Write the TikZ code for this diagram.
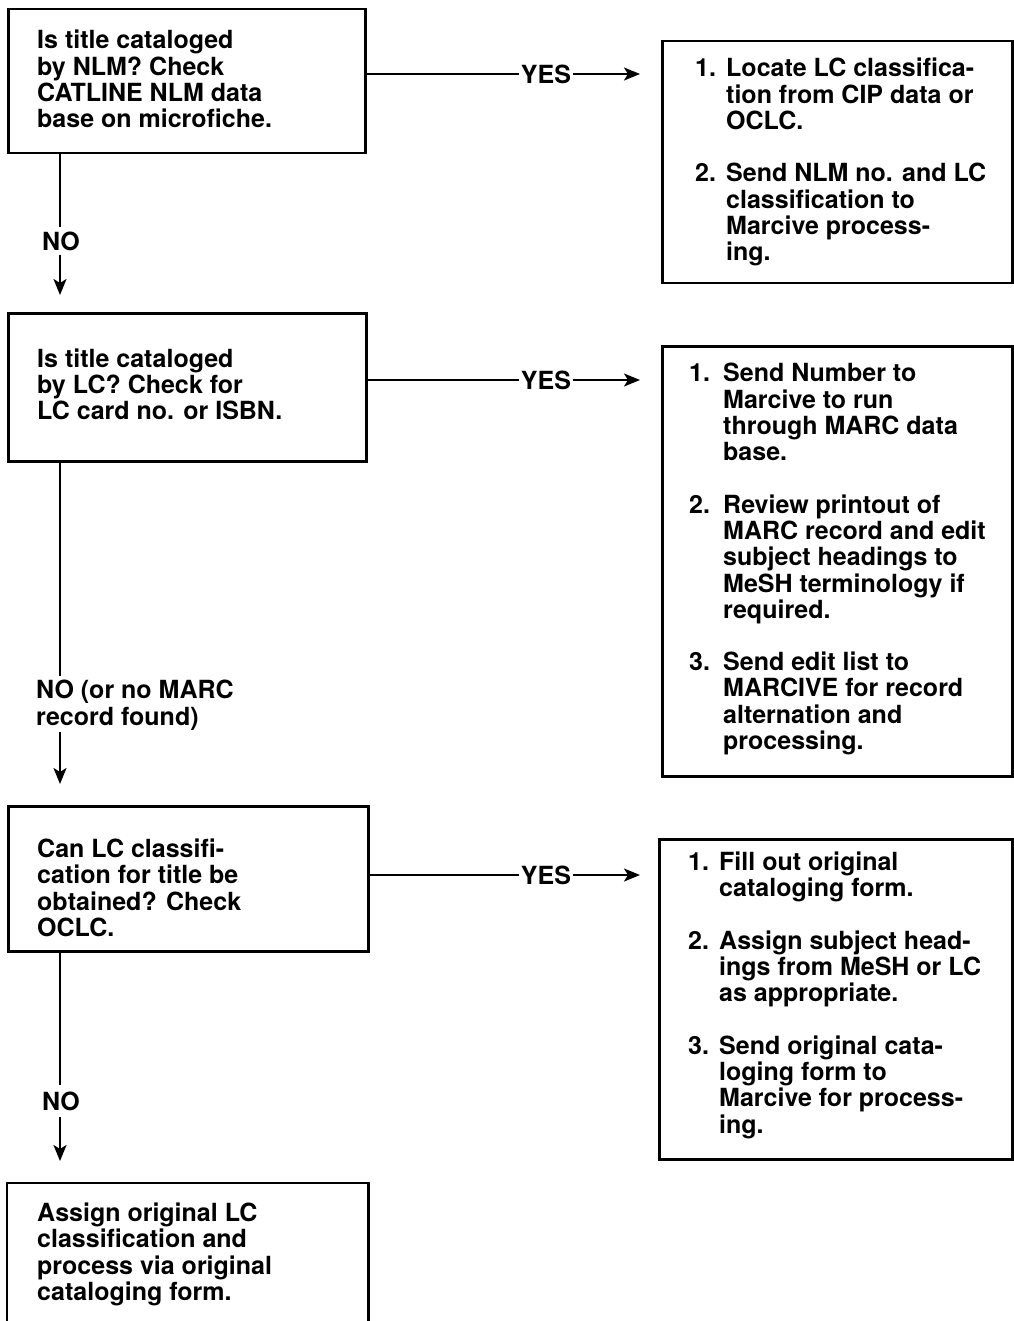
\documentclass[tikz,border=0pt]{standalone}
\usepackage{fontspec}
\setmainfont{TeX Gyre Heros}
\usetikzlibrary{arrows.meta}
\newcommand\myitem[1]{\makebox[31pt][l]{#1}}
\newcommand\myind{\hspace*{31pt}}
\newcommand\myitemb[1]{\makebox[34pt][l]{#1}}
\newcommand\myindb{\hspace*{34pt}}
\begin{document}
\begin{tikzpicture}[x=1pt,y=-1pt,
  txt/.style={font=\fontsize{25}{26.3}\selectfont\bfseries},
  box/.style={draw,line width=2.5pt,anchor=north west,inner sep=0pt},
  blk/.style={txt,align=left,inner sep=0pt,anchor=west},
  lab/.style={txt,inner sep=0pt},
  ln/.style={line width=2.2pt},
  arr/.style={ln,-{Stealth[length=16pt,width=13pt,inset=4pt]}}]
\useasboundingbox (0,0) rectangle (1013,1321);
% left boxes
\node[box,minimum width=357pt,minimum height=144pt] (b1) at (7,8) {};
\node[box,minimum width=358pt,minimum height=148pt] (b2) at (7,312) {};
\node[box,minimum width=360pt,minimum height=145pt] (b3) at (7,805) {};
\node[box,draw=none,minimum width=359pt,minimum height=140pt] (b4) at (7,1183) {};
\draw[line width=2.5pt] (b4.south west) |- (b4.north east) -- (b4.south east);
\node[blk] (t1) at ([xshift=30pt,yshift=2pt]b1.west)
  {Is title cataloged\\by NLM? Check\\CATLINE NLM data\\base on microfiche.};
\node[blk] (t2) at ([xshift=30pt,yshift=3pt]b2.west)
  {Is title cataloged\\by LC? Check for\\LC card no. or ISBN.};
\node[blk] (t3) at ([xshift=30pt,yshift=-9pt]b3.west)
  {Can LC classifi-\\cation for title be\\obtained? Check\\OCLC.};
\node[blk] (t4) at ([xshift=30pt]b4.west)
  {Assign original LC\\classification and\\process via original\\cataloging form.};
% right boxes
\node[box,minimum width=350pt,minimum height=242pt] (r1) at (661,40) {};
\node[box,minimum width=350pt,minimum height=430pt] (r2) at (661,345) {};
\node[box,minimum width=353pt,minimum height=320pt] (r3) at (658,838) {};
\node[blk] (s1) at ([xshift=34pt]r1.west)
  {\myitem{1.}Locate LC classifica-\\\myind tion from CIP data or\\\myind OCLC.\\[26pt]
   \myitem{2.}Send NLM no. and LC\\\myind classification to\\\myind Marcive process-\\\myind ing.};
\node[blk] (s2) at ([xshift=28pt,yshift=2pt]r2.west)
  {\myitemb{1.}Send Number to\\\myindb Marcive to run\\\myindb through MARC data\\\myindb base.\\[26pt]
   \myitemb{2.}Review printout of\\\myindb MARC record and edit\\\myindb subject headings to\\\myindb MeSH terminology if\\\myindb required.\\[26pt]
   \myitemb{3.}Send edit list to\\\myindb MARCIVE for record\\\myindb alternation and\\\myindb processing.};
\node[blk] (s3) at ([xshift=30pt,yshift=4pt]r3.west)
  {\myitem{1.}Fill out original\\\myind cataloging form.\\[26pt]
   \myitem{2.}Assign subject head-\\\myind ings from MeSH or LC\\\myind as appropriate.\\[26pt]
   \myitem{3.}Send original cata-\\\myind loging form to\\\myind Marcive for process-\\\myind ing.};
% YES connectors
\coordinate (y1) at (0,74);
\coordinate (y2) at (0,380);
\coordinate (y3) at (0,875);
\node[lab,inner xsep=2pt] (yes1) at (546,74) {YES};
\node[lab,inner xsep=2pt] (yes2) at (546,380) {YES};
\node[lab,inner xsep=2pt] (yes3) at (546,875) {YES};
\draw[ln] (b1.east |- y1) -- (yes1.west);
\draw[arr,shorten >=21pt] (yes1.east) -- (r1.west |- y1);
\draw[ln] (b2.east |- y2) -- (yes2.west);
\draw[arr,shorten >=21pt] (yes2.east) -- (r2.west |- y2);
\draw[ln] (b3.east |- y3) -- (yes3.west);
\draw[arr,shorten >=18pt] (yes3.east) -- (r3.west |- y3);
% NO connectors
\coordinate (cx) at (60,0);
\node[lab,inner ysep=4pt] (no1) at (61,241) {NO};
\draw[ln] (b1.south -| cx) -- (no1.north -| cx);
\draw[arr,shorten >=17pt] (no1.south -| cx) -- (b2.north -| cx);
\node[lab,anchor=north west,align=left] (no2) at (36,680) {NO (or no MARC\\record found)};
\draw[ln] (b2.south -| cx) -- ([yshift=4pt]no2.north -| cx);
\draw[arr,shorten >=21pt] ([yshift=-2pt]no2.south -| cx) -- (b3.north -| cx);
\node[lab,inner ysep=6pt] (no3) at (61,1101) {NO};
\draw[ln] (b3.south -| cx) -- (no3.north -| cx);
\draw[arr,shorten >=22pt] (no3.south -| cx) -- (b4.north -| cx);
\end{tikzpicture}
\end{document}
